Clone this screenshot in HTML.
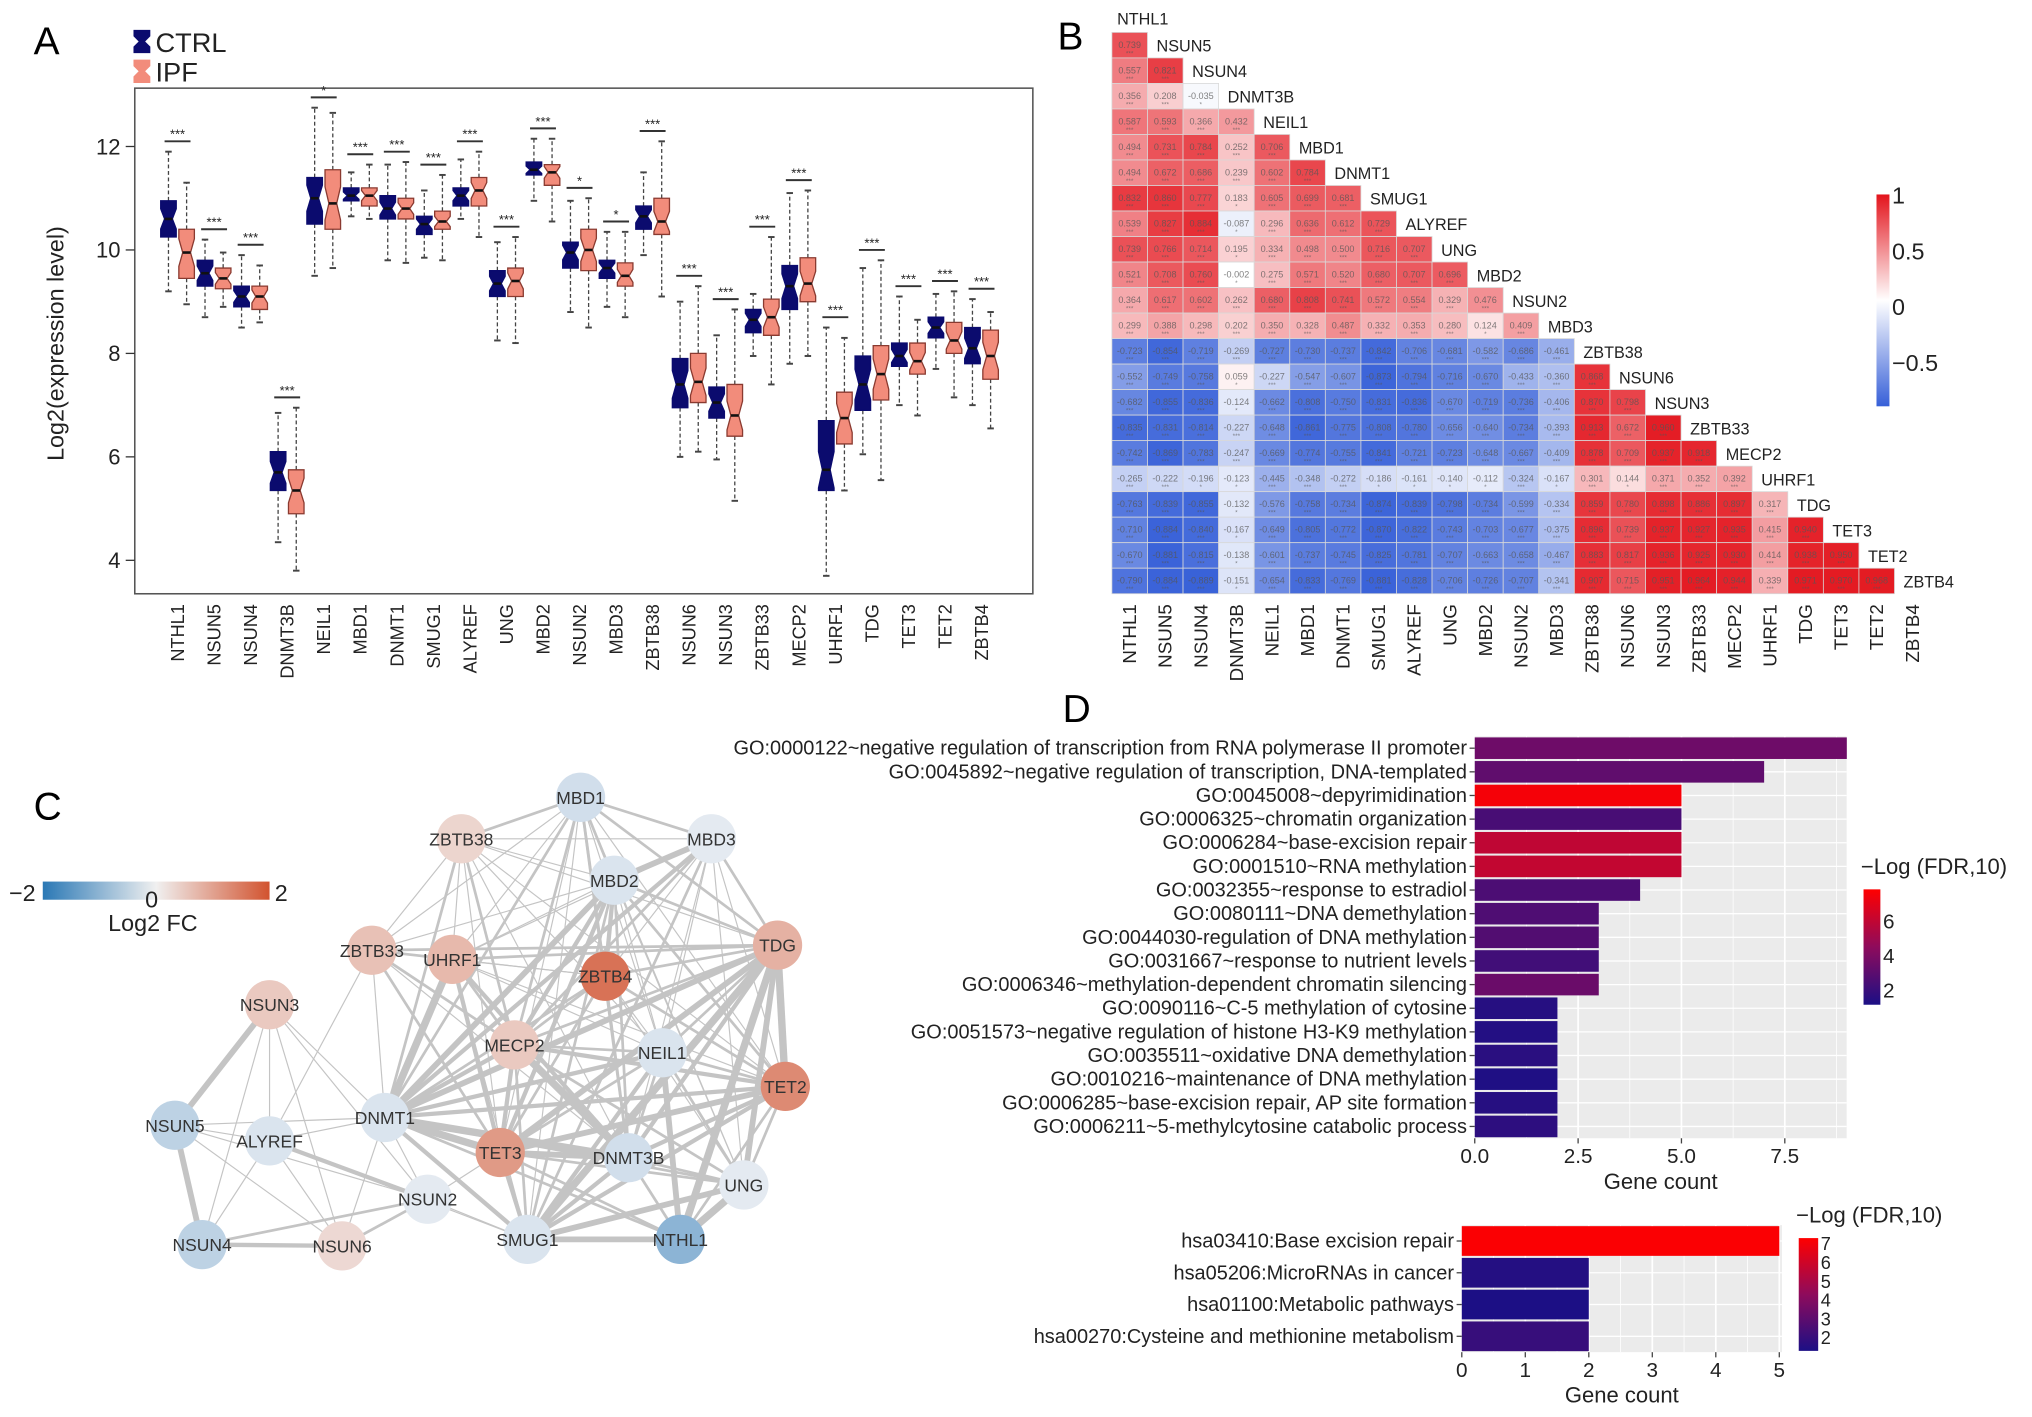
<!DOCTYPE html>
<html><head><meta charset="utf-8"><style>
html,body{margin:0;padding:0;background:#fff;}
svg{display:block;font-family:"Liberation Sans",Arial,sans-serif;}
</style></head><body>
<svg id="fig" xmlns="http://www.w3.org/2000/svg" width="2032" height="1417" viewBox="0 0 1568 1093" preserveAspectRatio="none">
<text x="26" y="42" font-size="30">A</text>
<text x="816" y="38" font-size="30">B</text>
<text x="26" y="632" font-size="30">C</text>
<text x="820" y="557" font-size="30">D</text>
<g id="pa"></g>
<g id="pb"></g>
<g id="pc"></g>
<g id="pd"></g>
</svg>
<script>
// ---------- Panel A data ----------
const genesA = ["NTHL1","NSUN5","NSUN4","DNMT3B","NEIL1","MBD1","DNMT1","SMUG1","ALYREF","UNG","MBD2","NSUN2","MBD3","ZBTB38","NSUN6","NSUN3","ZBTB33","MECP2","UHRF1","TDG","TET3","TET2","ZBTB4"];
const ctrlStats = [[9.2,10.25,10.6,10.95,11.9],[8.7,9.3,9.55,9.8,10.2],[8.5,8.9,9.1,9.3,9.9],[4.35,5.35,5.7,6.1,6.85],[9.5,10.5,11.0,11.4,12.75],[10.65,10.95,11.05,11.2,11.5],[9.8,10.6,10.8,11.05,11.65],[9.85,10.3,10.5,10.65,11.15],[10.6,10.85,11.05,11.2,11.75],[8.25,9.1,9.35,9.6,10.15],[10.95,11.45,11.55,11.7,12.15],[8.8,9.65,9.95,10.15,10.95],[8.9,9.45,9.65,9.8,10.35],[9.9,10.4,10.65,10.85,11.5],[6.0,6.95,7.4,7.9,9.0],[5.95,6.75,7.05,7.35,8.35],[7.95,8.4,8.65,8.85,9.15],[7.8,8.85,9.3,9.7,11.1],[3.7,5.35,5.75,6.7,8.5],[6.05,6.9,7.4,7.95,9.65],[7.0,7.75,7.95,8.2,9.1],[7.7,8.3,8.5,8.7,9.15],[7.0,7.8,8.1,8.5,9.05]];
const ipfStats = [[8.95,9.45,9.95,10.4,11.3],[8.9,9.25,9.45,9.65,9.95],[8.6,8.85,9.1,9.3,9.7],[3.8,4.9,5.35,5.75,6.95],[9.65,10.4,10.9,11.55,12.65],[10.6,10.85,11.05,11.2,11.65],[9.75,10.6,10.8,11.0,11.7],[9.8,10.4,10.55,10.75,11.45],[10.25,10.85,11.15,11.4,11.9],[8.2,9.1,9.4,9.65,10.25],[10.55,11.25,11.5,11.65,12.15],[8.5,9.6,10.0,10.4,11.0],[8.7,9.3,9.5,9.75,10.35],[9.1,10.3,10.55,11.0,12.1],[6.1,7.05,7.45,8.0,9.3],[5.15,6.4,6.8,7.4,8.85],[7.4,8.35,8.7,9.05,10.25],[7.95,9.0,9.35,9.85,11.15],[5.35,6.25,6.75,7.25,8.3],[5.55,7.1,7.6,8.15,9.8],[6.8,7.6,7.85,8.2,8.65],[7.15,8.0,8.25,8.6,9.2],[6.55,7.5,7.95,8.45,8.8]];
const sigLabels = ["***","***","***","***","*","***","***","***","***","***","***","*","*","***","***","***","***","***","***","***","***","***","***"];
const yTicksA = [4,6,8,10,12];

// ---------- Panel B data ----------
const genesB = genesA;
const corrRows = [
[0.739],[0.557,0.821],[0.356,0.208,-0.035],[0.587,0.593,0.366,0.432],
[0.494,0.731,0.784,0.252,0.706],[0.494,0.672,0.686,0.239,0.602,0.784],
[0.832,0.860,0.777,0.183,0.605,0.699,0.681],[0.539,0.827,0.884,-0.087,0.296,0.636,0.612,0.729],
[0.739,0.766,0.714,0.195,0.334,0.498,0.500,0.716,0.707],[0.521,0.708,0.760,-0.002,0.275,0.571,0.520,0.680,0.707,0.696],
[0.364,0.617,0.602,0.262,0.680,0.808,0.741,0.572,0.554,0.329,0.476],
[0.299,0.388,0.298,0.202,0.350,0.328,0.487,0.332,0.353,0.280,0.124,0.409],
[-0.723,-0.854,-0.719,-0.269,-0.727,-0.730,-0.737,-0.842,-0.706,-0.681,-0.582,-0.686,-0.461],
[-0.552,-0.749,-0.758,0.059,-0.227,-0.547,-0.607,-0.873,-0.794,-0.716,-0.670,-0.433,-0.360,0.868],
[-0.682,-0.855,-0.836,-0.124,-0.662,-0.808,-0.750,-0.831,-0.836,-0.670,-0.719,-0.736,-0.406,0.870,0.798],
[-0.835,-0.831,-0.814,-0.227,-0.648,-0.861,-0.775,-0.808,-0.780,-0.656,-0.640,-0.734,-0.393,0.913,0.672,0.960],
[-0.742,-0.869,-0.783,-0.247,-0.669,-0.774,-0.755,-0.841,-0.721,-0.723,-0.648,-0.667,-0.409,0.878,0.709,0.937,0.918],
[-0.265,-0.222,-0.196,-0.123,-0.445,-0.348,-0.272,-0.186,-0.161,-0.140,-0.112,-0.324,-0.167,0.301,0.144,0.371,0.352,0.392],
[-0.763,-0.839,-0.855,-0.132,-0.576,-0.758,-0.734,-0.874,-0.839,-0.798,-0.734,-0.599,-0.334,0.859,0.780,0.898,0.886,0.897,0.317],
[-0.710,-0.884,-0.840,-0.167,-0.649,-0.805,-0.772,-0.870,-0.822,-0.743,-0.703,-0.677,-0.375,0.896,0.739,0.937,0.927,0.935,0.415,0.940],
[-0.670,-0.881,-0.815,-0.138,-0.601,-0.737,-0.745,-0.825,-0.781,-0.707,-0.663,-0.658,-0.467,0.883,0.817,0.936,0.925,0.930,0.414,0.938,0.950],
[-0.790,-0.884,-0.889,-0.151,-0.654,-0.833,-0.769,-0.881,-0.828,-0.706,-0.726,-0.707,-0.341,0.907,0.715,0.951,0.964,0.944,0.339,0.971,0.970,0.968]];
const cbTicks = [1,0.5,0,-0.5];

// ---------- Panel C data ----------
const nodeNames = ["MBD1","ZBTB38","MBD3","MBD2","ZBTB33","UHRF1","ZBTB4","TDG","NSUN3","MECP2","NEIL1","TET2","NSUN5","ALYREF","DNMT1","TET3","DNMT3B","UNG","NSUN2","SMUG1","NTHL1","NSUN4","NSUN6"];
const nodeX = [448,356,549,474,287,349,467,600,208,397,511,606,135,208,297,386,485,574,330,407,525,156,264];
const nodeY = [615,647,647,679,733,740,753,729,775,806,812,838,868,880,862,889,893,914,925,956,956,960,961];
const nodeFC = [-0.3,0.35,-0.1,-0.2,0.6,0.7,1.6,0.8,0.5,0.5,-0.2,1.3,-0.5,-0.2,-0.2,1.1,-0.3,-0.1,-0.1,-0.2,-1.0,-0.5,0.3];
const edgeList = ["NSUN3-NSUN5:4","NSUN3-ALYREF:1","NSUN3-NSUN4:1","NSUN3-NSUN6:1","NSUN3-DNMT1:1","NSUN3-NSUN2:1","NSUN5-ALYREF:1","NSUN5-DNMT1:1","NSUN5-NSUN4:4","NSUN5-NSUN2:1","NSUN5-NSUN6:1","ALYREF-NSUN2:3","ALYREF-NSUN4:1","ALYREF-NSUN6:1","ALYREF-DNMT1:1","ALYREF-SMUG1:1","NSUN4-NSUN6:3","NSUN4-NSUN2:2","NSUN6-NSUN2:2","NSUN6-DNMT1:1","NSUN2-DNMT1:1","NSUN2-TET3:1","NSUN2-SMUG1:1","ZBTB33-DNMT1:1","ZBTB33-ALYREF:1",
"MBD1-ZBTB38:2","MBD1-MBD3:2","MBD1-MBD2:2","MBD1-ZBTB33:1","MBD1-UHRF1:1","MBD1-ZBTB4:2","MBD1-TDG:2","MBD1-MECP2:2","MBD1-NEIL1:1","MBD1-DNMT1:2","MBD1-TET3:1","MBD1-DNMT3B:2","MBD1-SMUG1:1","MBD1-TET2:1","MBD1-UNG:1",
"ZBTB38-MBD3:1","ZBTB38-MBD2:1","ZBTB38-ZBTB33:1","ZBTB38-UHRF1:1","ZBTB38-TDG:1","ZBTB38-MECP2:2","ZBTB38-DNMT1:2","ZBTB38-TET3:1","ZBTB38-DNMT3B:1","ZBTB38-NEIL1:1","ZBTB38-TET2:1",
"MBD3-MBD2:4","MBD3-UHRF1:1","MBD3-ZBTB4:1","MBD3-TDG:2","MBD3-MECP2:2","MBD3-DNMT1:3","MBD3-NEIL1:1","MBD3-TET2:1","MBD3-DNMT3B:1","MBD3-SMUG1:2","MBD3-UNG:1",
"MBD2-ZBTB33:1","MBD2-UHRF1:1","MBD2-ZBTB4:3","MBD2-TDG:2","MBD2-MECP2:3","MBD2-DNMT1:4","MBD2-NEIL1:1","MBD2-TET3:3","MBD2-DNMT3B:2","MBD2-SMUG1:2","MBD2-TET2:2","MBD2-UNG:1",
"ZBTB33-UHRF1:2","ZBTB33-ZBTB4:1","ZBTB33-TDG:2","ZBTB33-MECP2:2","ZBTB33-TET3:2","ZBTB33-DNMT3B:1",
"UHRF1-ZBTB4:1","UHRF1-TDG:2","UHRF1-MECP2:2","UHRF1-DNMT1:5","UHRF1-TET3:3","UHRF1-DNMT3B:3","UHRF1-NEIL1:1","UHRF1-SMUG1:1","UHRF1-TET2:1",
"ZBTB4-TDG:2","ZBTB4-MECP2:2","ZBTB4-DNMT1:2","ZBTB4-TET3:2","ZBTB4-DNMT3B:2","ZBTB4-NEIL1:1","ZBTB4-TET2:2","ZBTB4-UNG:1",
"TDG-MECP2:2","TDG-NEIL1:2","TDG-TET2:5","TDG-DNMT1:4","TDG-TET3:4","TDG-DNMT3B:3","TDG-UNG:4","TDG-SMUG1:5","TDG-NTHL1:5",
"MECP2-NEIL1:2","MECP2-DNMT1:3","MECP2-TET3:3","MECP2-DNMT3B:5","MECP2-TET2:3","MECP2-SMUG1:2","MECP2-UNG:2",
"NEIL1-TET2:2","NEIL1-DNMT1:3","NEIL1-TET3:2","NEIL1-DNMT3B:2","NEIL1-UNG:2","NEIL1-SMUG1:3","NEIL1-NTHL1:4",
"TET2-DNMT1:3","TET2-TET3:4","TET2-DNMT3B:3","TET2-UNG:2","TET2-SMUG1:3","TET2-NTHL1:2",
"DNMT1-TET3:5","DNMT1-DNMT3B:5","DNMT1-UNG:2","DNMT1-SMUG1:3","DNMT1-NTHL1:2",
"TET3-DNMT3B:4","TET3-UNG:2","TET3-SMUG1:3","TET3-NTHL1:2","DNMT3B-UNG:2","DNMT3B-SMUG1:3","DNMT3B-NTHL1:2","UNG-SMUG1:4","UNG-NTHL1:5","SMUG1-NTHL1:4"];

// ---------- Panel D data ----------
const goTerms = ["GO:0000122~negative regulation of transcription from RNA polymerase II promoter","GO:0045892~negative regulation of transcription, DNA-templated","GO:0045008~depyrimidination","GO:0006325~chromatin organization","GO:0006284~base-excision repair","GO:0001510~RNA methylation","GO:0032355~response to estradiol","GO:0080111~DNA demethylation","GO:0044030-regulation of DNA methylation","GO:0031667~response to nutrient levels","GO:0006346~methylation-dependent chromatin silencing","GO:0090116~C-5 methylation of cytosine","GO:0051573~negative regulation of histone H3-K9 methylation","GO:0035511~oxidative DNA demethylation","GO:0010216~maintenance of DNA methylation","GO:0006285~base-excision repair, AP site formation","GO:0006211~5-methylcytosine catabolic process"];
const goCounts = [9,7,5,5,5,5,4,3,3,3,3,2,2,2,2,2,2];
const goLogFDR = [3.6,3.2,7.6,2.5,6.0,6.1,2.6,2.7,2.8,2.3,3.5,1.5,1.4,1.6,1.3,1.5,1.7];
const goTicks = [0,2.5,5,7.5];
const goLegendTicks = [2,4,6];
const keggTerms = ["hsa03410:Base excision repair","hsa05206:MicroRNAs in cancer","hsa01100:Metabolic pathways","hsa00270:Cysteine and methionine metabolism"];
const keggCounts = [5,2,2,2];
const keggLogFDR = [7.2,1.5,1.3,2.0];
const keggTicks = [0,1,2,3,4,5];
const keggLegendTicks = [2,3,4,5,6,7];

// ---------- helpers ----------
const NS="http://www.w3.org/2000/svg";
function mk(tag,attrs,parent){const e=document.createElementNS(NS,tag);for(const k in attrs)e.setAttribute(k,attrs[k]);parent.appendChild(e);return e;}
function txt(str,attrs,parent){const e=mk("text",attrs,parent);e.textContent=str;return e;}
function lerp(a,b,t){return a+(b-a)*t;}
function hex(c){return [parseInt(c.slice(1,3),16),parseInt(c.slice(3,5),16),parseInt(c.slice(5,7),16)];}
function mix(c1,c2,t){const a=hex(c1),b=hex(c2);return "rgb("+a.map((v,i)=>Math.round(lerp(v,b[i],t))).join(",")+")";}

// ---------- Panel A ----------
(function(){
 const g=document.getElementById("pa");
 const X0=104,X1=797,Y0=68,Y1=458;
 const yS=v=>113+(12-v)*39.9;
 const xS=i=>137+i*28.2;
 const frame=mk("rect",{x:X0,y:Y0,width:X1-X0,height:Y1-Y0,fill:"none",stroke:"#555","stroke-width":1.2},g);
 
 
 yTicksA.forEach(v=>{
  const t=mk("line",{x1:X0-7,x2:X0,y1:yS(v),y2:yS(v),stroke:"#333"},g);
  
  
  const l=txt(String(v),{x:X0-11,y:yS(v)+6,"font-size":17,"text-anchor":"end",fill:"#222"},g);
  
  
 });
 const yt=txt("Log2(expression level)",{x:0,y:0,"font-size":18,"text-anchor":"middle",transform:"translate(49,265) rotate(-90)",fill:"#222"},g);
 
 
 function box(cx,s,fill,stroke,name){
  const w=6,n=Math.min(0.28*(s[3]-s[1]),0.35);
  const gg=mk("g",{},g);
  
  
  [[s[3],s[4]],[s[1],s[0]]].forEach(p=>{
   mk("line",{x1:cx,x2:cx,y1:yS(p[0]),y2:yS(p[1]),stroke:"#444","stroke-width":1,"stroke-dasharray":"3,2"},gg);
   mk("line",{x1:cx-2.5,x2:cx+2.5,y1:yS(p[1]),y2:yS(p[1]),stroke:"#444","stroke-width":1.5},gg);
  });
  const pts=[[cx-w,s[3]],[cx+w,s[3]],[cx+w,s[2]+n],[cx+w/2,s[2]],[cx+w,s[2]-n],[cx+w,s[1]],[cx-w,s[1]],[cx-w,s[2]-n],[cx-w/2,s[2]],[cx-w,s[2]+n]];
  mk("polygon",{points:pts.map(p=>p[0]+","+yS(p[1])).join(" "),fill:fill,stroke:stroke,"stroke-width":1},gg);
  mk("line",{x1:cx-w/2,x2:cx+w/2,y1:yS(s[2]),y2:yS(s[2]),stroke:"#111","stroke-width":2},gg);
 }
 genesA.forEach((gn,i)=>{
  const cx=xS(i);
  box(cx-7,ctrlStats[i],"#0b0b6e","#0b0b6e","ctrl-box-"+gn.toLowerCase());
  box(cx+7,ipfStats[i],"#f28c7b","#8a3a30","ipf-box-"+gn.toLowerCase());
  const top=Math.max(ctrlStats[i][4],ipfStats[i][4])+0.2;
  const sb=mk("line",{x1:cx-10,x2:cx+10,y1:yS(top),y2:yS(top),stroke:"#333","stroke-width":1.5},g);
  
  
  const st=txt(sigLabels[i],{x:cx,y:yS(top)-2,"font-size":10,"text-anchor":"middle",fill:"#222"},g);
  
  
  const xl=txt(gn,{x:0,y:0,"font-size":14,"text-anchor":"end",transform:"translate("+(cx+5)+",466) rotate(-90)",fill:"#222"},g);
  
  
 });
 const lg=mk("g",{},g);
 
 
 [["CTRL","#0b0b6e",32],["IPF","#f28c7b",55]].forEach(e=>{
  const it=mk("g",{},lg);
  
  
  mk("polygon",{points:`103,${e[2]-9} 116,${e[2]-9} 116,${e[2]-4} 112,${e[2]} 116,${e[2]+4} 116,${e[2]+9} 103,${e[2]+9} 103,${e[2]+4} 107,${e[2]} 103,${e[2]-4}`,fill:e[1]},it);
  txt(e[0],{x:120,y:e[2]+8,"font-size":21,fill:"#222"},it);
 });
})();

// ---------- Panel B ----------
(function(){
 const g=document.getElementById("pb");
 const X0=858,Y0=25,cw=27.45,ch=19.68;
 function col(v){return v>=0?mix("#ffffff","#e3141c",Math.min(1,v)):mix("#ffffff","#3760d8",Math.min(1,-v/0.9));}
 const l0=txt(genesB[0],{x:X0+4,y:Y0-6,"font-size":12.5,fill:"#222"},g);
 
 
 corrRows.forEach((row,r)=>{
  row.forEach((v,c)=>{
   const x=X0+c*cw,y=Y0+r*ch;
   const cell=mk("rect",{x:x,y:y,width:cw,height:ch,fill:col(v),stroke:"#d8d8d8","stroke-width":0.6},g);
   
   
   const t=txt(v.toFixed(3),{x:x+cw/2,y:y+ch/2+2,"font-size":7,"text-anchor":"middle",fill:"#555","fill-opacity":0.75},g);
   
   
   const s=txt(Math.abs(v)>0.2?"***":"*",{x:x+cw/2,y:y+ch-2,"font-size":5,"text-anchor":"middle",fill:"#555","fill-opacity":0.7},g);
   
   
  });
  const rl=txt(genesB[r+1],{x:X0+row.length*cw+7,y:Y0+r*ch+ch/2+5,"font-size":12.5,fill:"#222"},g);
  
  
 });
 genesB.forEach((gn,i)=>{
  const cl=txt(gn,{x:0,y:0,"font-size":14.5,"text-anchor":"end",transform:"translate("+(X0+i*cw+cw/2+5)+",466) rotate(-90)",fill:"#222"},g);
  
  
 });
 const defs=mk("defs",{},g);
 const lgd=mk("linearGradient",{id:"cbg",x1:0,y1:0,x2:0,y2:1},defs);
 mk("stop",{offset:"0",  "stop-color":"#e3141c"},lgd);
 mk("stop",{offset:"0.5","stop-color":"#ffffff"},lgd);
 mk("stop",{offset:"1","stop-color":"#3760d8"},lgd);
 const cbY=v=>236-v*86;
 const cb=mk("rect",{x:1448,y:cbY(1),width:10,height:cbY(-0.9)-cbY(1),fill:"url(#cbg)"},g);
 
 
 cbTicks.forEach(v=>{
  const t=txt(v<0?"\u2212"+Math.abs(v):String(v),{x:1460,y:cbY(v)+7,"font-size":18,fill:"#222"},g);
  
  
 });
})();

// ---------- Panel C ----------
(function(){
 const g=document.getElementById("pc");
 const idx={};nodeNames.forEach((n,i)=>idx[n]=i);
 const eg=mk("g",{},g);
 
 
 edgeList.forEach(e=>{
  const [pair,w]=e.split(":");const [a,b]=pair.split("-");
  const ln=mk("line",{x1:nodeX[idx[a]],y1:nodeY[idx[a]],x2:nodeX[idx[b]],y2:nodeY[idx[b]],stroke:"#c4c4c4","stroke-width":0.9+(+w-1)*1.2},eg);
  
  
 });
 function fcCol(v){return v>=0?mix("#f2f0f0","#d2532f",Math.min(1,v/2)):mix("#eef0f4","#2a78b5",Math.min(1,-v/2));}
 nodeNames.forEach((n,i)=>{
  const ng=mk("g",{},g);
  
  
  mk("circle",{cx:nodeX[i],cy:nodeY[i],r:19,fill:fcCol(nodeFC[i])},ng);
  txt(n,{x:nodeX[i],y:nodeY[i]+5,"font-size":13.5,"text-anchor":"middle",fill:"#333"},ng);
 });
 const defs=mk("defs",{},g);
 const lg=mk("linearGradient",{id:"fcg",x1:0,y1:0,x2:1,y2:0},defs);
 mk("stop",{offset:"0","stop-color":"#2a78b5"},lg);
 mk("stop",{offset:"0.5","stop-color":"#f0f0f0"},lg);
 mk("stop",{offset:"1","stop-color":"#d2532f"},lg);
 const bar=mk("rect",{x:33,y:680,width:175,height:14,fill:"url(#fcg)"},g);
 
 
 [["\u22122",7,695],["0",112,700],["2",212,695]].forEach(t=>{
  const e=txt(t[0],{x:t[1],y:t[2],"font-size":18,fill:"#222"},g);
  
  
 });
 const tt=txt("Log2 FC",{x:118,y:718,"font-size":18,"text-anchor":"middle",fill:"#222"},g);
 
 
})();

// ---------- Panel D ----------
function fdrCol(v,lo,hi){const t=Math.max(0,Math.min(1,(v-lo)/(hi-lo)));return t<0.5?mix("#1c0f85","#8e0b5c",t*2):mix("#8e0b5c","#ff0000",(t-0.5)*2);}
function barChart(g,terms,counts,fdr,ticks,legTicks,o){
 const xS=v=>o.x0+v*o.k;
 const bg=mk("rect",{x:o.x0,y:o.y0,width:o.x1-o.x0,height:o.y1-o.y0,fill:"#ebebeb"},g);
 
 
 for(let v=o.minor/2;xS(v)<o.x1;v+=o.minor/2){
  const gl=mk("line",{x1:xS(v),x2:xS(v),y1:o.y0,y2:o.y1,stroke:"#fff","stroke-width":(Math.round(v/o.minor*2)%2===0)?1.3:0.6},g);
  
  
 }
 const bh=(o.y1-o.y0)/terms.length;
 terms.forEach((t,i)=>{
  const y=o.y0+i*bh;
  const hl=mk("line",{x1:o.x0,x2:o.x1,y1:y+bh/2,y2:y+bh/2,stroke:"#fff","stroke-width":1},g);
  
  
  const b=mk("rect",{x:o.x0,y:y+0.8,width:xS(counts[i])-o.x0,height:bh-1.6,fill:fdrCol(fdr[i],o.lo,o.hi)},g);
  
  
  const tk=mk("line",{x1:o.x0-4,x2:o.x0,y1:y+bh/2,y2:y+bh/2,stroke:"#444"},g);
  
  
  const l=txt(t,{x:o.x0-6,y:y+bh/2+5,"font-size":15.4,"text-anchor":"end",fill:"#222"},g);
  
  
 });
 ticks.forEach(v=>{
  const tk=mk("line",{x1:xS(v),x2:xS(v),y1:o.y1,y2:o.y1+4,stroke:"#444"},g);
  
  
  const l=txt(o.fmt(v),{x:xS(v),y:o.y1+19,"font-size":16,"text-anchor":"middle",fill:"#222"},g);
  
  
 });
 const xt=txt("Gene count",{x:(o.x0+o.x1)/2,y:o.y1+39,"font-size":17,"text-anchor":"middle",fill:"#222"},g);
 
 
 const defs=mk("defs",{},g);
 const lgd=mk("linearGradient",{id:o.id,x1:0,y1:1,x2:0,y2:0},defs);
 mk("stop",{offset:"0","stop-color":"#1c0f85"},lgd);
 mk("stop",{offset:"0.5","stop-color":"#8e0b5c"},lgd);
 mk("stop",{offset:"1","stop-color":"#ff0000"},lgd);
 const lb=mk("rect",{x:o.lx,y:o.ly0,width:o.lw,height:o.ly1-o.ly0,fill:"url(#"+o.id+")"},g);
 
 
 const lyS=v=>o.ly1-(v-o.lo)/(o.hi-o.lo)*(o.ly1-o.ly0);
 legTicks.forEach(v=>{
  const l=txt(String(v),{x:o.lx+o.lw+2,y:lyS(v)+5,"font-size":o.lfs,fill:"#222"},g);
  
  
 });
 const lt=txt("\u2212Log (FDR,10)",{x:o.lx-2,y:o.ly0-12,"font-size":17,fill:"#222"},g);
 
 
}
(function(){
 const g=document.getElementById("pd");
 const g1=mk("g",{},g);
 
 
 barChart(g1,goTerms,goCounts,goLogFDR,goTicks,goLegendTicks,{x0:1138,x1:1425,y0:568,y1:878,k:31.9,minor:2.5,lo:1.2,hi:7.9,fmt:v=>v.toFixed(1),id:"gog",lx:1438,lw:13,ly0:686,ly1:775,lfs:16});
 const g2=mk("g",{},g);
 
 
 barChart(g2,keggTerms,keggCounts,keggLogFDR,keggTicks,keggLegendTicks,{x0:1128,x1:1375,y0:945,y1:1043,k:49,minor:1,lo:1.3,hi:7.3,fmt:v=>String(v),id:"kgg",lx:1388,lw:15,ly0:955,ly1:1042,lfs:14});
})();
</script>
</body></html>
